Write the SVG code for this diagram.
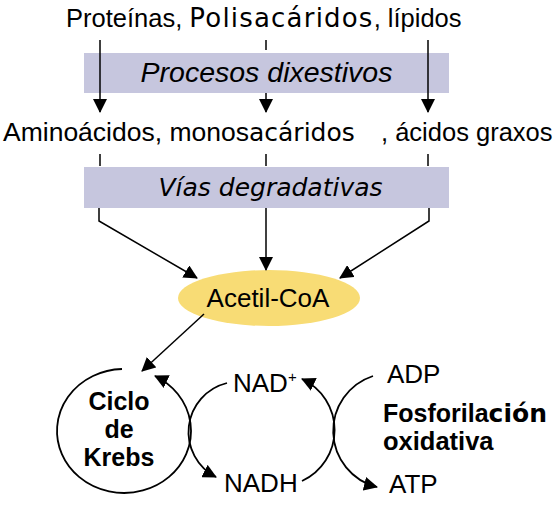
<svg xmlns="http://www.w3.org/2000/svg" width="558" height="512" viewBox="0 0 558 512">
<style>
.t{font-family:"Liberation Sans",Arial,sans-serif;fill:#000}
.d{font-family:"DejaVu Sans",sans-serif}
.box{fill:#c6c6de}
.ln{fill:none;stroke:#000;stroke-width:1.5}
.arc{fill:none;stroke:#000;stroke-width:1.8}
</style>
<defs>
<marker id="ah" viewBox="0 0 14 14" markerWidth="14" markerHeight="14" refX="13" refY="7" orient="auto" markerUnits="userSpaceOnUse">
<path d="M0,0 L14,7 L0,14 z" fill="#000"/>
</marker>
</defs>
<rect width="558" height="512" fill="#fff"/>
<g id="sources">
<text class="t" x="66" y="27" font-size="25.5">Proteínas, <tspan class="d" font-size="26" letter-spacing="1.2">Polisacáridos</tspan>, lípidos</text>
</g>
<g id="dixestivos">
<rect class="box" x="84" y="53" width="365" height="40"/>
<text class="t" x="266.5" y="82" font-size="28.5" font-style="italic" text-anchor="middle">Procesos dixestivos</text>
</g>
<g id="monomeros">
<text class="t" x="3" y="141" font-size="26.5">Aminoácidos, monos<tspan class="d" font-size="25">acáridos</tspan></text>
<text class="t" x="381" y="141" font-size="25.5">, ácidos graxos</text>
</g>
<g id="degradativas">
<rect class="box" x="84" y="167" width="365" height="41"/>
<text class="d" x="270.5" y="196" font-size="25" font-style="italic" text-anchor="middle">Vías degradativas</text>
</g>
<g id="acetilcoa">
<ellipse cx="269" cy="298" rx="91" ry="28" fill="#f8dc75"/>
<text class="t" x="268" y="307" font-size="26" text-anchor="middle">Acetil-CoA</text>
</g>
<g id="krebs">
<text class="t" x="119" y="410" font-size="25" font-weight="bold" text-anchor="middle">Ciclo</text>
<text class="t" x="119" y="438" font-size="25" font-weight="bold" text-anchor="middle">de</text>
<text class="t" x="119" y="466" font-size="25" font-weight="bold" text-anchor="middle">Krebs</text>
</g>
<g id="nad">
<text class="t" x="233" y="392" font-size="26">NAD<tspan font-size="15" dy="-10">+</tspan></text>
</g>
<g id="nadh">
<text class="t" x="224" y="492" font-size="26">NADH</text>
</g>
<g id="adp">
<text class="t" x="387" y="383" font-size="26">ADP</text>
</g>
<g id="atp">
<text class="t" x="389" y="493" font-size="26">ATP</text>
</g>
<g id="fosforilacion">
<text class="t" x="383" y="422" font-size="25" font-weight="bold">Fosforila<tspan class="d" font-size="25">ción</tspan></text>
<text class="t" x="383" y="450" font-size="25.5" font-weight="bold">oxidativa</text>
</g>
<g id="connectors">
<path class="ln" d="M100,40 V112" marker-end="url(#ah)"/>
<path class="ln" d="M266,40 V50"/>
<path class="ln" d="M266,93 V112" marker-end="url(#ah)"/>
<path class="ln" d="M428,40 V112" marker-end="url(#ah)"/>
<path class="ln" d="M100,154 V166"/>
<path class="ln" d="M266,154 V166"/>
<path class="ln" d="M428,154 V166"/>
<path class="ln" d="M99,208 V221 L197,278" marker-end="url(#ah)"/>
<path class="ln" d="M266,208 V270" marker-end="url(#ah)"/>
<path class="ln" d="M429,208 V221 L340,278" marker-end="url(#ah)"/>
<path class="ln" d="M204,314 L142,371" marker-end="url(#ah)"/>
<path class="arc" d="M122,369 A67,62 0 1 0 155,376" marker-end="url(#ah)"/>
<path class="arc" d="M227,383 A50.5,50.5 0 0 0 216,477" marker-end="url(#ah)"/>
<path class="arc" d="M302,481 A56.2,56.2 0 0 0 302,379" marker-end="url(#ah)"/>
<path class="arc" d="M373,376 A57.8,57.8 0 0 0 377,487" marker-end="url(#ah)"/>
</g>
</svg>
